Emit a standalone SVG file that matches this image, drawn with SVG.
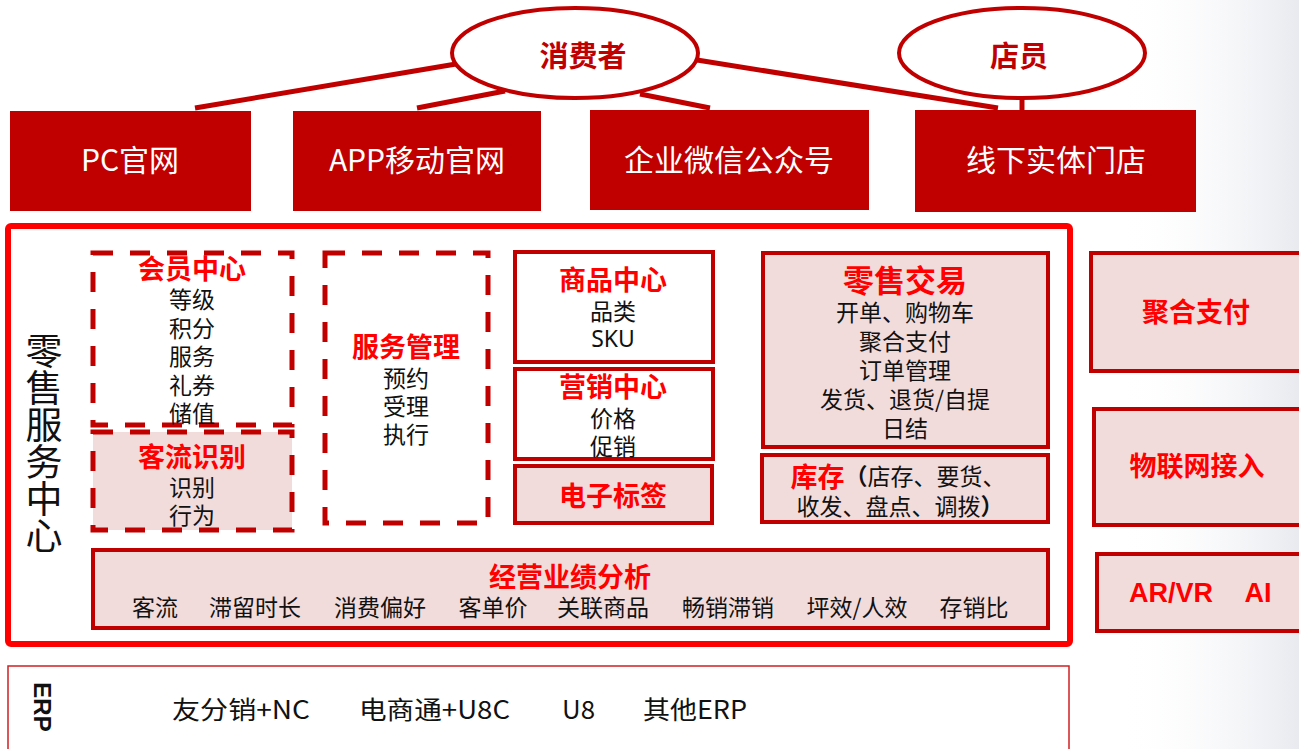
<svg xmlns="http://www.w3.org/2000/svg" width="1299" height="749" viewBox="0 0 1299 749">
<defs>
<linearGradient id="bg" x1="0" y1="0" x2="1" y2="0">
<stop offset="0" stop-color="#ffffff" stop-opacity="0"/>
<stop offset="1" stop-color="#e8eaef" stop-opacity="1"/>
</linearGradient>
<style>
text{font-family:"Noto Sans CJK SC","Noto Sans",sans-serif;dominant-baseline:central;text-anchor:middle}
.top{fill:#C00000}
.topt{fill:#ffffff;font-size:30px}
.ell{fill:#ffffff;stroke:#C00000;stroke-width:4}
.ellt{fill:#C00000;font-size:29px;font-weight:bold}
.con{stroke:#C00000;stroke-width:5;fill:none}
.dash{fill:none;stroke:#C00000;stroke-width:5;stroke-dasharray:20 17}
.dashp{fill:#F2DCDB;stroke:#C00000;stroke-width:5;stroke-dasharray:20 17}
.solid{fill:#ffffff;stroke:#C00000;stroke-width:4}
.pink{fill:#F2DCDB;stroke:#C00000;stroke-width:4}
.ttl{fill:#FF0000;font-weight:bold;font-size:27px}
.itm{fill:#111111;font-size:23px}
.side{fill:#FF0000;font-weight:bold;font-size:27px;font-family:"Liberation Sans","Noto Sans CJK SC",sans-serif}
</style>
</defs>
<rect x="0" y="0" width="1299" height="749" fill="#ffffff"/>
<rect x="1120" y="0" width="179" height="749" fill="url(#bg)"/>

<g id="connectors">
<line class="con" x1="456" y1="64" x2="195" y2="108"/>
<line class="con" x1="505" y1="91" x2="417" y2="108"/>
<line class="con" x1="640" y1="94" x2="710" y2="108"/>
<line class="con" x1="697" y1="60" x2="998" y2="108"/>
<line class="con" x1="1022" y1="98" x2="1022" y2="110"/>
</g>

<g id="consumer">
<ellipse class="ell" cx="575" cy="53" rx="123" ry="45"/>
<text class="ellt" x="583" y="54">消费者</text>
</g>
<g id="clerk">
<ellipse class="ell" cx="1022" cy="53" rx="123" ry="45"/>
<text class="ellt" x="1019" y="54">店员</text>
</g>

<g id="pc"><rect class="top" x="10" y="111" width="241" height="100"/><text class="topt" x="130" y="158">PC官网</text></g>
<g id="app"><rect class="top" x="293" y="111" width="248" height="100"/><text class="topt" x="417" y="158">APP移动官网</text></g>
<g id="wechat"><rect class="top" x="590" y="110" width="279" height="100"/><text class="topt" x="729" y="158">企业微信公众号</text></g>
<g id="store"><rect class="top" x="915" y="110" width="281" height="102"/><text class="topt" x="1056" y="158">线下实体门店</text></g>

<g id="retail-center">
<rect x="8" y="226" width="1062" height="418" rx="3" fill="none" stroke="#FF0000" stroke-width="6"/>
<text x="44" y="332" style="writing-mode:vertical-rl;text-anchor:start;font-size:37px;fill:#111111">零售服务中心</text>
</g>

<g id="member">
<rect class="dash" x="93" y="253" width="199" height="172"/>
<text class="ttl" x="192" y="267">会员中心</text>
<text class="itm" x="192" y="298">等级<tspan x="192" dy="28.5">积分</tspan><tspan x="192" dy="28.5">服务</tspan><tspan x="192" dy="28.5">礼券</tspan><tspan x="192" dy="28.5">储值</tspan></text>
</g>

<g id="traffic">
<rect class="dashp" x="93" y="432" width="199" height="98"/>
<text class="ttl" x="192" y="455">客流识别</text>
<text class="itm" x="192" y="486">识别<tspan x="192" dy="28">行为</tspan></text>
</g>

<g id="service">
<rect class="dash" x="325" y="253" width="163" height="270"/>
<text class="ttl" x="406" y="345">服务管理</text>
<text class="itm" x="406" y="377">预约<tspan x="406" dy="28">受理</tspan><tspan x="406" dy="28">执行</tspan></text>
</g>

<g id="goods">
<rect class="solid" x="515" y="252" width="198" height="110"/>
<text class="ttl" x="613" y="278">商品中心</text>
<text class="itm" x="613" y="310">品类<tspan x="613" dy="28" style="font-family:'Noto Sans',sans-serif">SKU</tspan></text>
</g>

<g id="marketing">
<rect class="solid" x="515" y="369" width="198" height="90"/>
<text class="ttl" x="613" y="385">营销中心</text>
<text class="itm" x="613" y="417">价格<tspan x="613" dy="28">促销</tspan></text>
</g>

<g id="esl">
<rect class="pink" x="515" y="466" width="197" height="57"/>
<text class="ttl" x="613" y="494">电子标签</text>
</g>

<g id="trade">
<rect class="pink" x="763" y="253" width="285" height="194"/>
<text class="ttl" x="905" y="278" style="font-size:31px">零售交易</text>
<text class="itm" x="905" y="311">开单、购物车<tspan x="905" dy="29">聚合支付</tspan><tspan x="905" dy="28.5">订单管理</tspan><tspan x="905" dy="29">发货、退货/自提</tspan><tspan x="905" dy="29.5">日结</tspan></text>
</g>

<g id="inventory">
<rect class="pink" x="762" y="455" width="286" height="67"/>
<text x="898" y="475" style="font-size:23px;fill:#111111"><tspan style="fill:#FF0000;font-weight:bold;font-size:27px">库存</tspan><tspan style="font-weight:bold">（</tspan>店存、要货、<tspan x="900" dy="30">收发、盘点、调拨</tspan><tspan style="font-weight:bold">）</tspan></text>
</g>

<g id="analysis">
<rect class="pink" x="93" y="550" width="955" height="78"/>
<text class="ttl" x="570" y="575">经营业绩分析</text>
<text class="itm" y="606"><tspan x="155">客流</tspan><tspan x="255">滞留时长</tspan><tspan x="380">消费偏好</tspan><tspan x="493">客单价</tspan><tspan x="603">关联商品</tspan><tspan x="728">畅销滞销</tspan><tspan x="857">坪效/人效</tspan><tspan x="974">存销比</tspan></text>
</g>

<g id="pay">
<rect class="pink" x="1091" y="253" width="215" height="118"/>
<text class="side" x="1196" y="313">聚合支付</text>
</g>
<g id="iot">
<rect class="pink" x="1094" y="409" width="212" height="116"/>
<text class="side" x="1197" y="467">物联网接入</text>
</g>
<g id="arvr">
<rect class="pink" x="1097" y="554" width="209" height="77"/>
<text class="side" x="1199" y="593"><tspan x="1171">AR/VR</tspan><tspan x="1258">AI</tspan></text>
</g>

<g id="erp">
<rect x="8" y="666" width="1061" height="100" fill="#ffffff" stroke="#D02020" stroke-width="1.5"/>
<text x="42" y="707" transform="rotate(90 42 707)" style="font-family:'Liberation Sans',sans-serif;font-weight:bold;font-size:24px;fill:#111111">ERP</text>
<g style="font-size:25px;fill:#111111">
<text x="172" y="708" style="text-anchor:start" textLength="138" lengthAdjust="spacingAndGlyphs">友分销+NC</text>
<text x="359" y="708" style="text-anchor:start" textLength="151" lengthAdjust="spacingAndGlyphs">电商通+U8C</text>
<text x="562" y="708" style="text-anchor:start" textLength="33" lengthAdjust="spacingAndGlyphs">U8</text>
<text x="643" y="708" style="text-anchor:start" textLength="104" lengthAdjust="spacingAndGlyphs">其他ERP</text>
</g>
</g>
</svg>
